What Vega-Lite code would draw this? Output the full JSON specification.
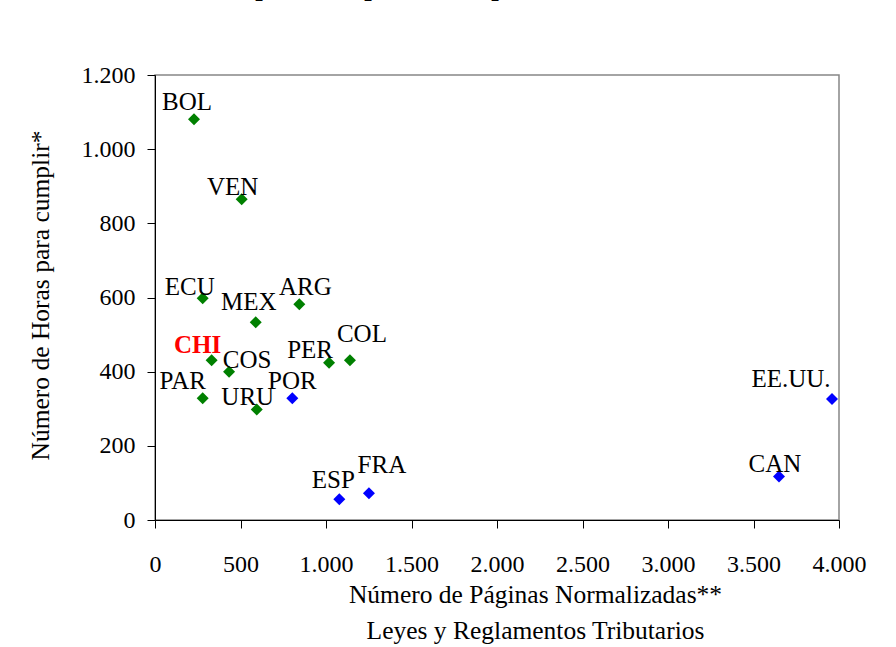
{
  "$schema": "https://vega.github.io/schema/vega-lite/v6.json",
  "width": 684,
  "height": 445,
  "autosize": {"type": "none"},
  "padding": {"left": 155, "top": 75, "right": 57, "bottom": 127},
  "background": "white",
  "config": {
    "locale": {"number": {"decimal": ",", "thousands": ".", "grouping": [3], "currency": ["", ""]}},
    "view": {"stroke": "#868686", "strokeWidth": 1.5},
    "font": "Liberation Serif",
    "axis": {
      "grid": false,
      "domainColor": "black",
      "tickColor": "black",
      "labelColor": "black",
      "titleColor": "black",
      "labelFont": "Liberation Serif",
      "titleFont": "Liberation Serif",
      "labelFontSize": 24,
      "titleFontSize": 25.5,
      "titleFontWeight": "normal",
      "tickSize": 8,
      "domainWidth": 1,
      "tickWidth": 1,
      "labelFlush": false,
      "labelOverlap": false
    }
  },
  "title": {
    "text": "Horas para cumplir versus peso de la normativa",
    "font": "Liberation Serif",
    "fontSize": 26.7,
    "fontWeight": "bold",
    "color": "black",
    "anchor": "start",
    "frame": "group",
    "dx": 24,
    "baseline": "alphabetic",
    "offset": 41
  },
  "data": {
    "values": [
      {"pais": "BOL", "paginas": 228, "horas": 1081, "grupo": "América Latina"},
      {"pais": "VEN", "paginas": 507, "horas": 865, "grupo": "América Latina"},
      {"pais": "ECU", "paginas": 279, "horas": 598, "grupo": "América Latina"},
      {"pais": "MEX", "paginas": 589, "horas": 533, "grupo": "América Latina"},
      {"pais": "ARG", "paginas": 844, "horas": 582, "grupo": "América Latina"},
      {"pais": "CHI", "paginas": 331, "horas": 431, "grupo": "América Latina"},
      {"pais": "COS", "paginas": 433, "horas": 400, "grupo": "América Latina"},
      {"pais": "PER", "paginas": 1018, "horas": 424, "grupo": "América Latina"},
      {"pais": "COL", "paginas": 1140, "horas": 431, "grupo": "América Latina"},
      {"pais": "PAR", "paginas": 279, "horas": 328, "grupo": "América Latina"},
      {"pais": "URU", "paginas": 595, "horas": 298, "grupo": "América Latina"},
      {"pais": "POR", "paginas": 803, "horas": 328, "grupo": "Países desarrollados"},
      {"pais": "ESP", "paginas": 1078, "horas": 56, "grupo": "Países desarrollados"},
      {"pais": "FRA", "paginas": 1251, "horas": 72, "grupo": "Países desarrollados"},
      {"pais": "EE.UU.", "paginas": 3959, "horas": 326, "grupo": "Países desarrollados"},
      {"pais": "CAN", "paginas": 3649, "horas": 117, "grupo": "Países desarrollados"}
    ]
  },
  "encoding": {
    "x": {
      "field": "paginas",
      "type": "quantitative",
      "scale": {"domain": [0, 4000], "nice": false, "zero": false},
      "axis": {
        "values": [0, 500, 1000, 1500, 2000, 2500, 3000, 3500, 4000],
        "format": ",.0f",
        "labelPadding": 24,
        "title": ["Número de Páginas Normalizadas**", "Leyes y Reglamentos Tributarios"],
        "titleX": 380,
        "titleY": 82,
        "titleAlign": "center",
        "titleAnchor": null,
        "titleBaseline": "alphabetic",
        "titleLineHeight": 36
      }
    },
    "y": {
      "field": "horas",
      "type": "quantitative",
      "scale": {"domain": [0, 1200], "nice": false, "zero": false},
      "axis": {
        "values": [0, 200, 400, 600, 800, 1000, 1200],
        "format": ",.0f",
        "labelPadding": 12,
        "title": "Número de Horas para cumplir*",
        "titleX": -115,
        "titleY": 220,
        "titleAngle": 270,
        "titleAlign": "center",
        "titleBaseline": "middle"
      }
    }
  },
  "layer": [
    {
      "mark": {"type": "point", "shape": "diamond", "filled": true, "size": 144, "opacity": 1},
      "encoding": {
        "color": {
          "field": "grupo",
          "type": "nominal",
          "scale": {"domain": ["América Latina", "Países desarrollados"], "range": ["#008000", "#0000FF"]},
          "legend": null
        }
      }
    },
    {
      "mark": {
        "type": "text",
        "font": "Liberation Serif",
        "fontSize": 25,
        "align": "center",
        "baseline": "alphabetic",
        "dx": {"expr": "({'BOL':-7,'VEN':-9,'ECU':-13,'MEX':-7,'ARG':6,'CHI':-14,'COS':18,'PER':-19,'COL':12,'PAR':-20,'POR':0,'URU':-9,'ESP':-6,'FRA':13,'EE.UU.':-41,'CAN':-4})[datum.pais]"},
        "dy": {"expr": "({'BOL':-9,'VEN':-4,'ECU':-3,'MEX':-12,'ARG':-9,'CHI':-7,'COS':-4,'PER':-5,'COL':-18,'PAR':-9,'POR':-9,'URU':-4,'ESP':-11,'FRA':-20,'EE.UU.':-12,'CAN':-5})[datum.pais]"},
        "fontWeight": {"expr": "datum.pais === 'CHI' ? 'bold' : 'normal'"}
      },
      "encoding": {
        "text": {"field": "pais", "type": "nominal"},
        "color": {"condition": {"test": "datum.pais === 'CHI'", "value": "#FF0000"}, "value": "black"}
      }
    }
  ]
}
